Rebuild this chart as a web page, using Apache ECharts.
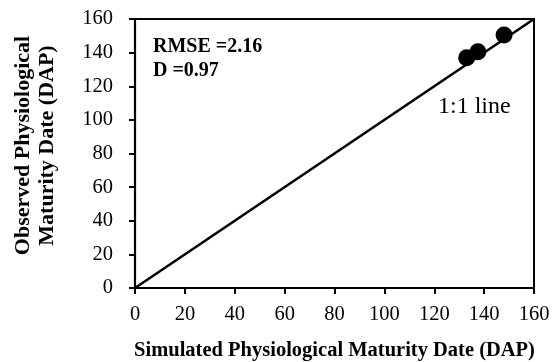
<!DOCTYPE html>
<html><head><meta charset="utf-8">
<script src="https://cdn.jsdelivr.net/npm/echarts@6/dist/echarts.min.js"></script>
<style>html,body{margin:0;padding:0;background:#fff}#c{width:558px;height:362px}</style>
</head><body><div id="c"></div>
<script>
const simulated = [133, 137.5, 148];
const observed = [137, 140.5, 150.5];
const oneToOneLine = [[0, 0], [160, 160]];
const axisTicks = [0, 20, 40, 60, 80, 100, 120, 140, 160];
const statsText = ['RMSE =2.16', 'D =0.97'];
const lineLabel = '1:1 line';

const font = 'Liberation Serif, Times New Roman, serif';
const chart = echarts.init(document.getElementById('c'), null, {renderer: 'canvas'});
const axisCommon = {
  type: 'value', min: 0, max: 160, interval: 20,
  axisLine: {show: true, lineStyle: {color: '#000', width: 2.2}},
  axisTick: {show: true, inside: false, length: 6, lineStyle: {color: '#000', width: 2}},
  splitLine: {show: false},
  axisLabel: {color: '#000', fontFamily: font, fontSize: 20.5},
  nameTextStyle: {color: '#000', fontFamily: font, fontSize: 20.5, fontWeight: 'bold'}
};
chart.setOption({
  animation: false,
  backgroundColor: '#fff',
  grid: {left: 135, top: 19, right: 24, bottom: 74, show: true, borderColor: '#000', borderWidth: 2,
         containLabel: false, outerBoundsMode: 'none'},
  xAxis: Object.assign({}, axisCommon, {
    name: 'Simulated Physiological Maturity Date (DAP)', nameLocation: 'middle', nameGap: 52,
    axisLabel: Object.assign({}, axisCommon.axisLabel, {margin: 16})
  }),
  yAxis: Object.assign({}, axisCommon, {
    name: 'Observed Physiological\nMaturity Date (DAP)', nameLocation: 'middle', nameGap: 76,
    nameTextStyle: Object.assign({}, axisCommon.nameTextStyle, {fontSize: 22, lineHeight: 24, padding: [0, 0, 0, 16]}),
    axisLabel: Object.assign({}, axisCommon.axisLabel, {margin: 22})
  }),
  series: [
    {type: 'line', data: oneToOneLine, symbol: 'none', lineStyle: {color: '#000', width: 2.6}, z: 2},
    {type: 'scatter', data: simulated.map((x, i) => [x, observed[i]]), symbol: 'circle', symbolSize: 17,
     itemStyle: {color: '#000', opacity: 1}, z: 3}
  ],
  graphic: [
    {type: 'text', left: 153, top: 37, style: {text: statsText[0], font: 'bold 20px ' + font, fill: '#000'}},
    {type: 'text', left: 153, top: 61, style: {text: statsText[1], font: 'bold 20px ' + font, fill: '#000'}},
    {type: 'text', left: 438, top: 95, style: {text: lineLabel, font: '24px ' + font, fill: '#000'}}
  ]
});
</script></body></html>
